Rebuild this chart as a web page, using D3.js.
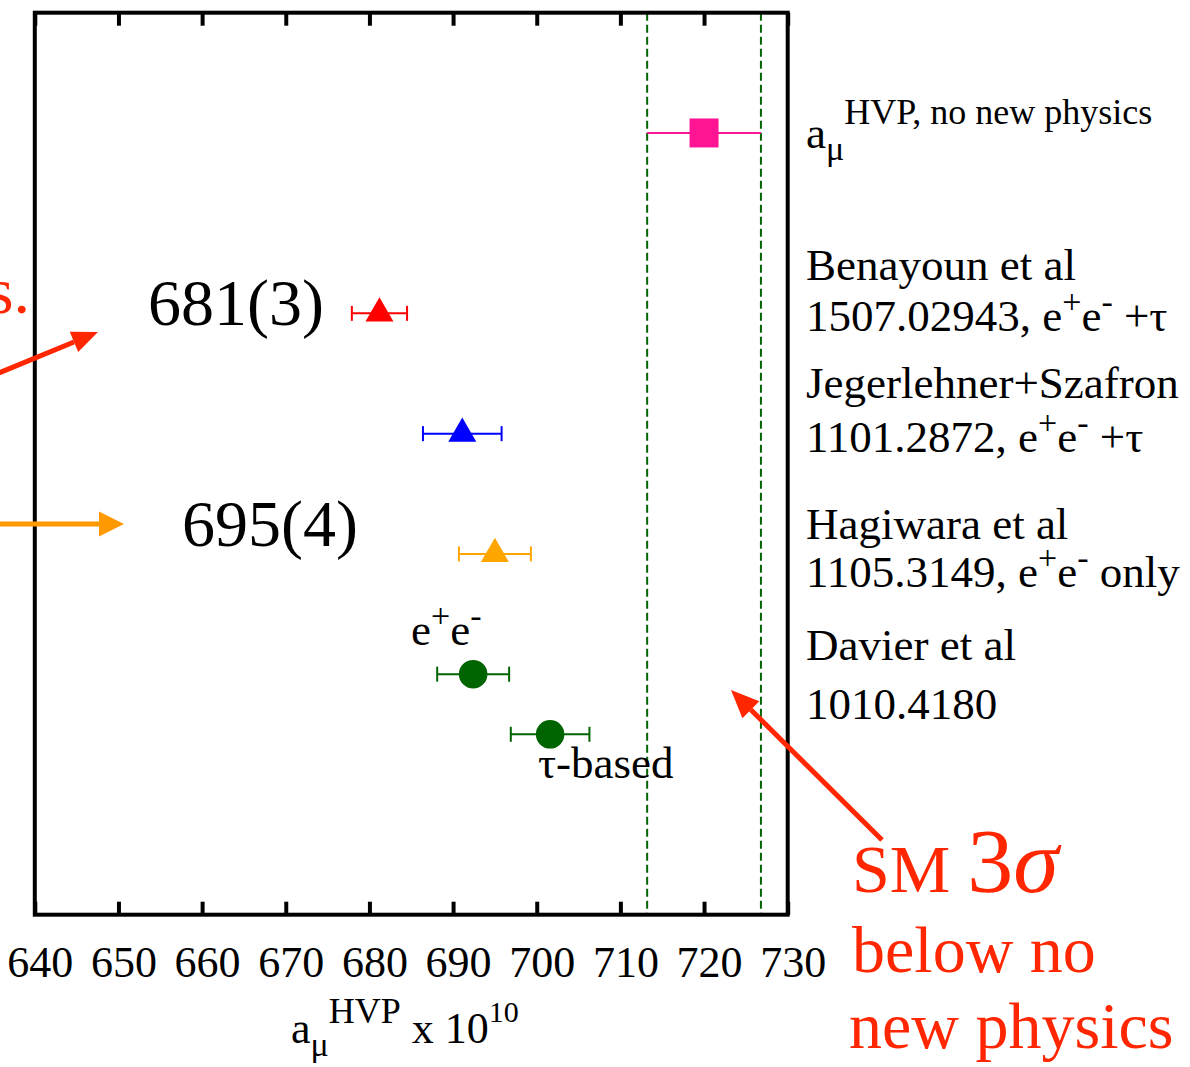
<!DOCTYPE html>
<html>
<head>
<meta charset="utf-8">
<script src="https://cdn.jsdelivr.net/npm/d3@7"></script>
<style>
  body { margin: 0; background: #fff; }
  svg { display: block; font-family: "Liberation Serif", "DejaVu Serif", serif; }
</style>
</head>
<body>
<script>
// ---- datos ----
var names  = ["no new physics", "Benayoun", "Jegerlehner+Szafron", "Hagiwara", "Davier e+e-", "Davier tau"];
var values = [720.0, 681.2, 691.1, 695.0, 692.4, 701.6];
var errors = [6.8, 3.3, 4.7, 4.3, 4.3, 4.7];
var rows   = [13, 10, 8, 6, 4, 3];
var shapes = ["square", "triangle", "triangle", "triangle", "circle", "circle"];
var colors = ["#ff1493", "#ff0000", "#0000ff", "#ffa500", "#006400", "#006400"];
var band   = [713.2, 726.8];   // lineas discontinuas
var xTicks = [640, 650, 660, 670, 680, 690, 700, 710, 720, 730];

var width = 1190, height = 1067;
var mLeft = 34.8, mRight = 787.7, mTop = 12.7, mBottom = 914.7;
var red = "#ff2600";

var svg = d3.select("body").append("svg")
  .attr("width", width).attr("height", height);

var x = d3.scaleLinear().domain([640, 730]).range([mLeft, mRight]);
var y = d3.scaleLinear().domain([0, 15]).range([mBottom, mTop]);

// lineas discontinuas (banda)
svg.append("g").selectAll("line")
  .data(band)
  .join("line")
    .attr("x1", d => x(d)).attr("x2", d => x(d))
    .attr("y1", mTop).attr("y2", mBottom)
    .attr("stroke", "#006400").attr("stroke-width", 2)
    .attr("stroke-dasharray", "8,4");

// ejes
var axB = svg.append("g").attr("transform", `translate(0,${mBottom})`)
  .call(d3.axisBottom(x).tickValues(xTicks).tickSizeInner(-13).tickSizeOuter(0).tickFormat(d3.format("d")));
axB.select(".domain").remove();
axB.selectAll("line").attr("stroke", "#000").attr("stroke-width", 4);
axB.selectAll("text")
  .attr("font-family", "Liberation Serif").attr("font-size", 44)
  .attr("fill", "#000").attr("y", 62).attr("dy", 0).attr("dx", 5);

var axT = svg.append("g").attr("transform", `translate(0,${mTop})`)
  .call(d3.axisTop(x).tickValues(xTicks).tickSizeInner(-13).tickSizeOuter(0).tickFormat(""));
axT.select(".domain").remove();
axT.selectAll("line").attr("stroke", "#000").attr("stroke-width", 4);

// marco
svg.append("rect")
  .attr("x", mLeft).attr("y", mTop)
  .attr("width", mRight - mLeft).attr("height", mBottom - mTop)
  .attr("fill", "none").attr("stroke", "#000").attr("stroke-width", 4);

// barras de error
var pts = values.map((v, i) => ({v: v, e: errors[i], r: rows[i], s: shapes[i], c: colors[i]}));
var eb = svg.append("g").selectAll("g").data(pts).join("g")
  .attr("stroke", d => d.c).attr("stroke-width", 2);
eb.append("line")
  .attr("x1", d => x(d.v - d.e)).attr("x2", d => x(d.v + d.e))
  .attr("y1", d => y(d.r)).attr("y2", d => y(d.r));
eb.filter(d => d.s != "square").selectAll(".cap")
  .data(d => [d.v - d.e, d.v + d.e].map(xx => ({xx: xx, r: d.r})))
  .join("line")
    .attr("x1", d => x(d.xx)).attr("x2", d => x(d.xx))
    .attr("y1", d => y(d.r) - 7.5).attr("y2", d => y(d.r) + 7.5);

// simbolos
var symType = {square: d3.symbolSquare, triangle: d3.symbolTriangle, circle: d3.symbolCircle};
var symSize = {square: 841, triangle: 340, circle: 640};
svg.append("g").selectAll("path").data(pts).join("path")
  .attr("transform", d => `translate(${x(d.v)},${y(d.r)})`)
  .attr("d", d => d3.symbol(symType[d.s], symSize[d.s])())
  .attr("fill", d => d.c);

// texto con super/subindices
function rich(x0, y0, size, parts, color) {
  var t = svg.append("text").attr("x", x0).attr("y", y0)
    .attr("font-size", size).attr("fill", color || "#000");
  parts.forEach(p => {
    var ts = t.append("tspan").attr("y", y0 + (p.dy || 0)).text(p.t);
    if (p.size) ts.attr("font-size", p.size);
    if (p.italic) ts.attr("font-style", "italic");
  });
  return t;
}
var sup = t => ({t: t, dy: -18, size: 34});

// etiquetas derecha
rich(806, 148, 45, [{t: "a"}, {t: "μ", dy: 12, size: 34}, {t: "HVP, no new physics", dy: -24, size: 36}]);
rich(806, 280, 45, [{t: "Benayoun et al"}]);
rich(806, 331, 45, [{t: "1507.02943, e"}, sup("+"), {t: "e"}, sup("-"), {t: " +τ"}]);
rich(806, 398, 45, [{t: "Jegerlehner+Szafron"}]);
rich(806, 452, 45, [{t: "1101.2872, e"}, sup("+"), {t: "e"}, sup("-"), {t: " +τ"}]);
rich(806, 539, 45, [{t: "Hagiwara et al"}]);
rich(806, 587, 45, [{t: "1105.3149, e"}, sup("+"), {t: "e"}, sup("-"), {t: " only"}]);
rich(806, 660, 45, [{t: "Davier et al"}]);
rich(806, 719, 45, [{t: "1010.4180"}]);

// etiquetas dentro
rich(411, 645, 45, [{t: "e"}, sup("+"), {t: "e"}, sup("-")]);
rich(538, 778, 45, [{t: "τ-based"}]);
rich(148, 325, 66, [{t: "681(3)"}]);
rich(182, 546, 66, [{t: "695(4)"}]);

// titulo eje x
rich(291, 1043, 44, [{t: "a"}, {t: "μ", dy: 13, size: 34}, {t: "HVP", dy: -20, size: 36}, {t: " x 10"}, {t: "10", dy: -21, size: 30}]);

// anotaciones en rojo/naranja
svg.append("text").attr("x", 30).attr("y", 313).attr("text-anchor", "end")
  .attr("font-size", 66).attr("fill", red).text("s.");
rich(852, 892, 68, [{t: "SM "}, {t: "3", size: 92}, {t: "σ", size: 92, italic: true}], red);
rich(852, 972, 66, [{t: "below no"}], red);
rich(849, 1048, 66, [{t: "new physics"}], red);

function arrow(x1, y1, x2, y2, color, w, hl, hw) {
  var a = Math.atan2(y2 - y1, x2 - x1);
  var bx = x2 - hl * Math.cos(a), by = y2 - hl * Math.sin(a);
  svg.append("line").attr("x1", x1).attr("y1", y1).attr("x2", bx).attr("y2", by)
    .attr("stroke", color).attr("stroke-width", w);
  var px = -Math.sin(a) * hw, py = Math.cos(a) * hw;
  svg.append("path")
    .attr("d", `M${x2},${y2}L${bx + px},${by + py}L${bx - px},${by - py}Z`)
    .attr("fill", color);
}
arrow(-30, 385, 98, 332, red, 5, 26, 11);
arrow(-10, 524, 124, 524, "#ff9900", 5, 25, 12.5);
arrow(882, 840, 731, 690, red, 5, 28, 12);
</script>
</body>
</html>
